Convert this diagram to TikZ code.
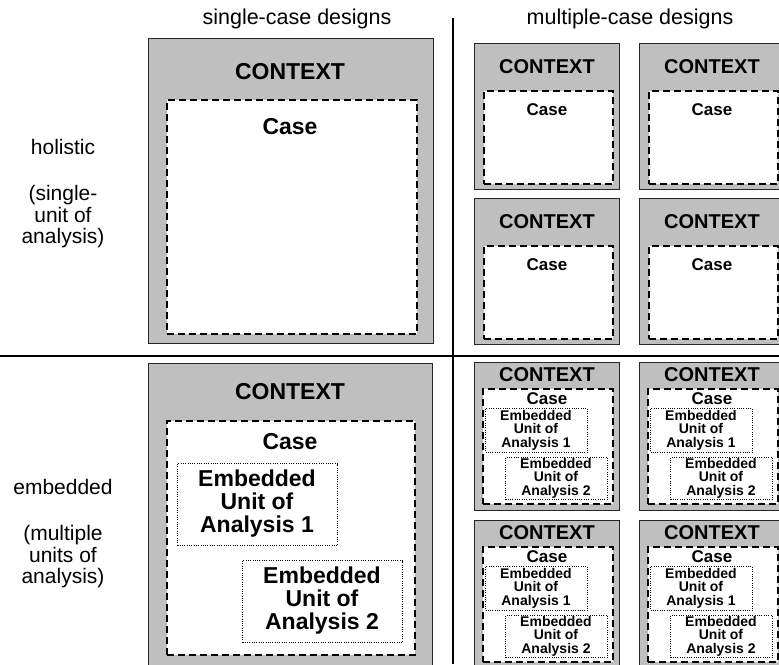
\documentclass[tikz,border=0pt]{standalone}
\usepackage{fontspec}
\setmainfont{Liberation Sans}
\usetikzlibrary{positioning}

\tikzset{
  context/.style={draw=black!85, line width=1.2pt, fill=black!25, inner sep=0pt, anchor=north west},
  casebox/.style={draw, line width=1.5pt, dash pattern=on 7pt off 4pt, fill=white, inner sep=0pt, anchor=north west},
  unitbox/.style={draw, line width=1pt, dash pattern=on 1pt off 1.3pt, fill=white, inner sep=0pt, anchor=north west},
  divider/.style={line width=2.8pt},
  bigtext/.style={inner sep=0pt, align=center, font=\fontsize{23}{23}\selectfont\bfseries},
  smallctx/.style={inner sep=0pt, font=\fontsize{20}{20}\selectfont\bfseries},
  smallcase/.style={inner sep=0pt, font=\fontsize{17}{17}\selectfont\bfseries},
  smallunit/.style={inner sep=0pt, align=center, font=\fontsize{14}{13.5}\selectfont\bfseries},
  rowlabel/.style={inner sep=0pt, align=center, font=\fontsize{21}{21.5}\selectfont},
  colhead/.style={inner sep=0pt, font=\fontsize{21.5}{21.5}\selectfont}
}

\begin{document}
\begin{tikzpicture}[x=1pt,y=-1pt]
\useasboundingbox (0,0) rectangle (779,664);
\clip (0,0) rectangle (779,664);

% headers and row labels
\node[colhead] (singlehead) at (297,19) {single-case designs};
\node[colhead] (multihead) at (630,19) {multiple-case designs};
\node[rowlabel] (holistic) at (63,147) {holistic};
\node[rowlabel] (holisticnote) at (63,217) {(single-\\unit of\\analysis)};
\node[rowlabel] (embedded) at (63,487) {embedded};
\node[rowlabel] (embeddednote) at (63,557) {(multiple\\units of\\analysis)};

% dividers
\coordinate (hleft) at (0,356);
\coordinate (hright) at (779,356);
\coordinate (vtop) at (453,18);
\coordinate (vbottom) at (453,664);
\draw[divider] (hleft) -- (hright);
\draw[divider] (vtop) -- (vbottom);

% single-case, holistic
\node[context, minimum width=285pt, minimum height=305pt] (singlehol) at (148,38) {};
\node[casebox, minimum width=250pt, minimum height=234pt] (singleholcase) at (166,99) {};
\node[bigtext] at (290,72) {CONTEXT};
\node[bigtext] at (290,127) {Case};

% single-case, embedded
\node[context, minimum width=284pt, minimum height=320pt] (singleemb) at (148,363) {};
\node[casebox, minimum width=248pt, minimum height=234pt] (singleembcase) at (166,420) {};
\node[bigtext] at (290,392) {CONTEXT};
\node[bigtext] at (290,442) {Case};
\node[unitbox, minimum width=160pt, minimum height=82pt] (singleunita) at (177,463) {};
\node[bigtext] at (257,504) {Embedded\\Unit of\\Analysis 1};
\node[unitbox, minimum width=160pt, minimum height=82pt] (singleunitb) at (242,560) {};
\node[bigtext] at (322,601) {Embedded\\Unit of\\Analysis 2};

% multiple-case, holistic
\foreach \bx/\col in {474/a, 639/b} {
    \foreach \by/\row in {43/1, 198/2} {
        \node[context, minimum width=145pt, minimum height=146pt] (multihol\col\row) at (\bx,\by) {};
        \node[casebox, minimum width=129pt, minimum height=93pt] (multiholcase\col\row) at (\bx+9,\by+47) {};
        \node[smallctx] at (\bx+73,\by+24) {CONTEXT};
        \node[smallcase] at (\bx+73,\by+67) {Case};
    }
}

% multiple-case, embedded
\foreach \bx/\col in {474/a, 639/b} {
    \foreach \by/\row in {362/1, 520/2} {
        \node[context, minimum width=145pt, minimum height=148pt] (multiemb\col\row) at (\bx,\by) {};
        \node[casebox, minimum width=130pt, minimum height=115pt] (multiembcase\col\row) at (\bx+8,\by+26) {};
        \node[smallctx] at (\bx+73,\by+13) {CONTEXT};
        \node[smallcase] at (\bx+73,\by+37) {Case};
        \node[unitbox, minimum width=102pt, minimum height=44pt] (multiunita\col\row) at (\bx+11,\by+46) {};
        \node[smallunit] at (\bx+62,\by+68) {Embedded\\Unit of\\Analysis 1};
        \node[unitbox, minimum width=102pt, minimum height=42pt] (multiunitb\col\row) at (\bx+31,\by+95) {};
        \node[smallunit] at (\bx+82,\by+116) {Embedded\\Unit of\\Analysis 2};
    }
}
\end{tikzpicture}
\end{document}
